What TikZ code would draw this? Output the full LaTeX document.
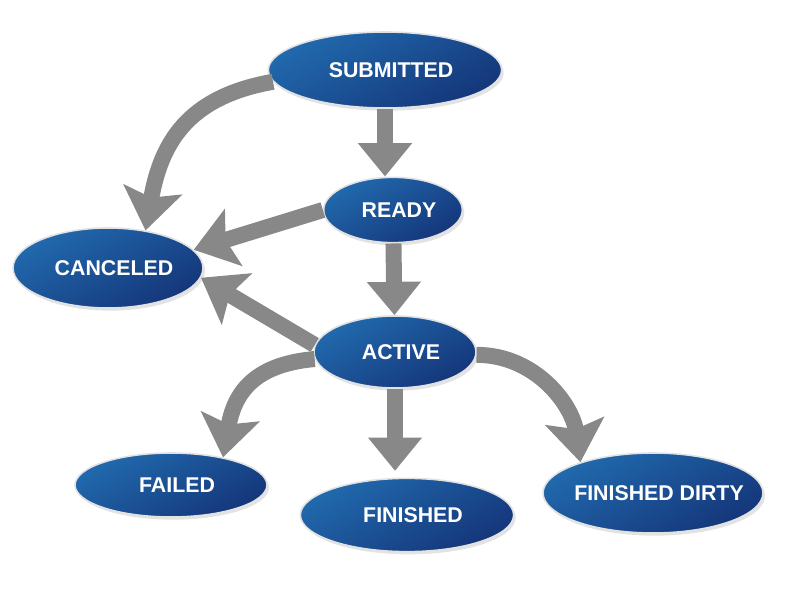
\documentclass[tikz,border=0pt]{standalone}
\usepackage{fontspec}
\setmainfont{Liberation Sans}
\usetikzlibrary{arrows.meta}
\usetikzlibrary{shapes.geometric}
\usetikzlibrary{shadows}
\usetikzlibrary{positioning}
\definecolor{statetop}{HTML}{2169AD}
\definecolor{statebottom}{HTML}{15367A}
\definecolor{stateedge}{HTML}{E2E2E2}
\definecolor{flowgray}{HTML}{888888}
\newcommand{\statename}[1]{\makebox[0pt]{\kern9pt\raisebox{-1.5pt}{#1}}}
\tikzset{state/.style = {ellipse, inner sep=0pt, draw=stateedge, line width=1.2pt,
                         top color=statetop, bottom color=statebottom, shading angle=30,
                         drop shadow={shadow xshift=1.5pt, shadow yshift=-2pt, opacity=.22},
                         text=white, font=\fontsize{16}{19}\selectfont\bfseries}}
\tikzset{flow/.style = {draw=flowgray, line width=12pt,
                        -{Triangle[length=25pt,width=39pt]}}}
\tikzset{bent flow/.style = {draw=flowgray, line width=12pt,
                             -{Stealth[length=31pt,width=44pt,inset=6pt]}}}

\begin{document}
\begin{tikzpicture}[x=.75pt, y=.75pt]
			\useasboundingbox (0, 0) rectangle (785, -591);
			\node [state, minimum width=175pt, minimum height=57pt] (sub) at (385, -70) {\statename{SUBMITTED}};
			\node [state, minimum width=104pt, minimum height=49pt] (rdy) at (393, -210) {\statename{READY}};
			\node [state, minimum width=142.5pt, minimum height=60pt] (can) at (108, -268) {\statename{CANCELED}};
			\node [state, minimum width=121.5pt, minimum height=54pt] (act) at (395, -352) {\statename{ACTIVE}};
			\node [state, minimum width=144pt, minimum height=48pt] (fail) at (171, -485) {\statename{FAILED}};
			\node [state, minimum width=160pt, minimum height=55pt] (fin) at (407, -515) {\statename{FINISHED}};
			\node [state, minimum width=165pt, minimum height=60pt] (dirty) at (653, -493) {\statename{FINISHED DIRTY}};
			\draw [bent flow] (sub.186) to [out=190, in=80, looseness=1.15] (can.45);
			\draw [flow] (sub.south) to (sub.south |- rdy.north);
			\draw [bent flow] (rdy.west) to (can.12);
			\draw [flow] (rdy) to (act);
			\draw [bent flow] (act.175) to (can.354);
			\draw [bent flow] (act.185) to [out=185, in=80, looseness=1.2] (fail.28);
			\draw [flow, shorten >=5pt] (act.south) to (act.south |- fin.north);
			\draw [bent flow] (act.358) to [out=0, in=98] (dirty.157);
		\end{tikzpicture}
\end{document}
